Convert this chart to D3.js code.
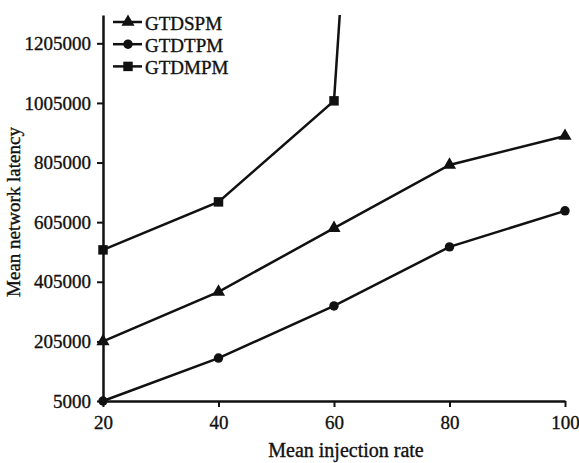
<!DOCTYPE html>
<html>
<head>
<meta charset="utf-8">
<script src="https://cdn.jsdelivr.net/npm/d3@7"></script>
<style>
body { margin: 0; background: #fff; }
svg text { font-family: "Liberation Serif", "Times New Roman", Times, "DejaVu Serif", serif; fill: #111; stroke: #111; stroke-width: 0.35px; }
</style>
</head>
<body>
<svg id="chart" width="579" height="463"></svg>
<script>
var injectionRates = [20, 40, 60, 80, 100];
var yTicks = [5000, 205000, 405000, 605000, 805000, 1005000, 1205000];
var gtdspm = [205000, 371000, 585000, 797000, 894000];
var gtdtpm = [5000, 149000, 324000, 522000, 643000];
var gtdmpm = [512000, 673000, 1012000, 6800000];
var seriesNames = ["GTDSPM", "GTDTPM", "GTDMPM"];

var svg = d3.select("#chart");
var serif = "'Liberation Serif', 'Times New Roman', Times, 'DejaVu Serif', serif";
var margin = {top: 15, right: 14, bottom: 62, left: 103};
var width = 579 - margin.left - margin.right,
    height = 463 - margin.top - margin.bottom;

var x = d3.scaleLinear().domain([20, 100]).range([0, width]);
var y = d3.scaleLinear().domain([5000, 1300000]).range([height, 0]);

var g = svg.append("g")
    .attr("transform", "translate(" + margin.left + "," + margin.top + ")");

svg.append("defs").append("clipPath").attr("id", "clip")
    .append("rect").attr("x", -10).attr("y", 0).attr("width", width + 20).attr("height", height + 10);

// axes
var xAxis = g.append("g")
    .attr("transform", "translate(0," + height + ")")
    .call(d3.axisBottom(x).tickValues(injectionRates).tickSize(6).tickSizeOuter(0).tickPadding(9));
var yAxis = g.append("g")
    .call(d3.axisLeft(y).tickValues(yTicks).tickFormat(d3.format("d")).tickSize(6).tickSizeOuter(0).tickPadding(6));

[xAxis, yAxis].forEach(function(a) {
    a.attr("font-family", serif);
    a.select(".domain").attr("stroke", "#111").attr("stroke-width", 2.5);
    a.selectAll(".tick line").attr("stroke", "#111").attr("stroke-width", 2);
    a.selectAll(".tick text").attr("font-size", 19).attr("fill", "#111")
        .style("font-family", serif);
});

var line = d3.line()
    .x(function(d, i) { return x(injectionRates[i]); })
    .y(function(d) { return y(d); });

var plot = g.append("g").attr("clip-path", "url(#clip)");

var series = [
    {name: seriesNames[0], values: gtdspm, shape: d3.symbolTriangle, size: 75},
    {name: seriesNames[1], values: gtdtpm, shape: d3.symbolCircle, size: 70},
    {name: seriesNames[2], values: gtdmpm, shape: d3.symbolSquare, size: 90}
];

series.forEach(function(s) {
    plot.append("path")
        .datum(s.values)
        .attr("d", line)
        .attr("fill", "none")
        .attr("stroke", "#111")
        .attr("stroke-width", 2.5);
    plot.selectAll(null)
        .data(s.values.filter(function(d) { return d <= y.domain()[1]; }))
        .enter()
        .append("path")
        .attr("transform", function(d, i) { return "translate(" + x(injectionRates[i]) + "," + y(d) + ")"; })
        .attr("d", d3.symbol().type(s.shape).size(s.size))
        .attr("fill", "#111");
});

// legend
var legend = svg.append("g").attr("transform", "translate(113,22)");
series.forEach(function(s, i) {
    var row = legend.append("g").attr("transform", "translate(0," + (i * 22.2) + ")");
    row.append("line").attr("x1", 0).attr("x2", 29).attr("y1", 0).attr("y2", 0)
        .attr("stroke", "#111").attr("stroke-width", 2.5);
    row.append("path").attr("transform", "translate(15,0)")
        .attr("d", d3.symbol().type(s.shape).size(s.size)).attr("fill", "#111");
    row.append("text").attr("x", 32).attr("y", 7.5).attr("font-size", 19)
        .style("font-family", serif).text(s.name);
});

// axis titles
svg.append("text")
    .attr("x", 346)
    .attr("y", 457)
    .attr("text-anchor", "middle")
    .attr("font-size", 20)
    .style("font-family", serif)
    .text("Mean injection rate");
svg.append("text")
    .attr("transform", "translate(20,212) rotate(-90)")
    .attr("text-anchor", "middle")
    .attr("font-size", 19)
    .style("font-family", serif)
    .text("Mean network latency");
</script>
</body>
</html>
